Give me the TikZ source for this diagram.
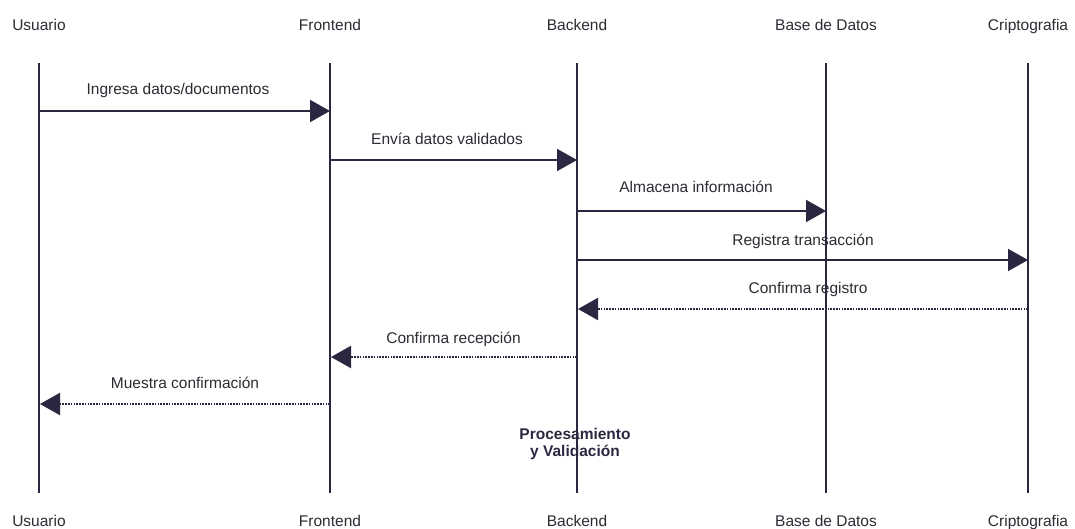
\documentclass[tikz,border=0pt]{standalone}
\usepackage{fontspec}
\setmainfont{Liberation Sans}
\usetikzlibrary{arrows.meta}
\definecolor{ink}{HTML}{2A2840}
\definecolor{txt}{HTML}{2B2B33}
\begin{document}
\begin{tikzpicture}[x=1pt,y=-1pt,
  actor/.style={text=txt,font=\fontsize{15.5}{17.5}\selectfont,inner sep=0pt,anchor=base},
  msglabel/.style={text=txt,font=\fontsize{15.5}{17.5}\selectfont,inner sep=0pt,anchor=base},
  lifeline/.style={draw=ink,line width=2pt},
  call/.style={draw=ink,line width=2pt,-{Triangle[length=20pt,width=22pt]}},
  reply/.style={draw=ink,line width=2.2pt,dash pattern=on 1.7pt off 1.1pt,-{Triangle[length=20pt,width=22pt]}},
  note/.style={text=ink,font=\bfseries\fontsize{15.5}{17.5}\selectfont,align=center,inner sep=0pt}]
\useasboundingbox (0,0) rectangle (1075,529);

% participant names, top and bottom
\foreach \n/\x/\t in {u/39/Usuario,f/330/Frontend,b/577/Backend,d/826/Base de Datos,c/1028/Criptografia}{
  \node[actor] (\n top) at (\x,30.5) {\t};
  \node[actor] (\n bot) at (\x,526.5) {\t};
  \coordinate (\n s) at (\x,63);
  \coordinate (\n e) at (\x,493);
}

% message labels
\node[msglabel] (m1) at (178,95) {Ingresa datos/documentos};
\node[msglabel] (m2) at (447,145) {Envía datos validados};
\node[msglabel] (m3) at (696,193) {Almacena información};
\node[msglabel] (m4) at (803,245) {Registra transacción};
\node[msglabel] (m5) at (808,293) {Confirma registro};
\node[msglabel] (m6) at (453.5,343) {Confirma recepción};
\node[msglabel] (m7) at (185,388) {Muestra confirmación};
\node[note] (proc) at (575,444) {Procesamiento\\y Validación};

% lifelines
\foreach \n in {u,f,b,d,c}{
  \draw[lifeline] (\n s) -- (\n e);
}

% message end points
\coordinate (a1) at (39,111);   \coordinate (a2) at (330,111);
\coordinate (b1) at (330,160);  \coordinate (b2) at (577,160);
\coordinate (c1) at (577,211);  \coordinate (c2) at (826,211);
\coordinate (d1) at (577,260);  \coordinate (d2) at (1028,260);
\coordinate (e1) at (1028,309); \coordinate (e2) at (578,309);
\coordinate (g1) at (577,357);  \coordinate (g2) at (331,357);
\coordinate (h1) at (330,404);  \coordinate (h2) at (40,404);

% messages
\draw[call] (a1) -- (a2);
\draw[call] (b1) -- (b2);
\draw[call] (c1) -- (c2);
\draw[call] (d1) -- (d2);
\draw[reply] (e1) -- (e2);
\draw[reply] (g1) -- (g2);
\draw[reply] (h1) -- (h2);
\end{tikzpicture}
\end{document}
